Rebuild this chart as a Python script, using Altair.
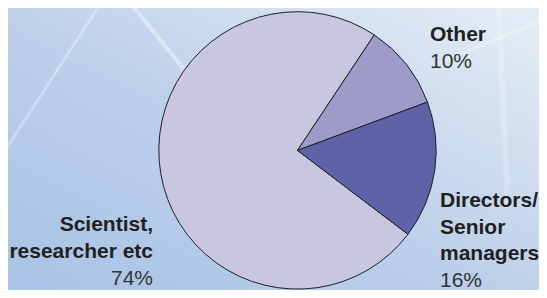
import math
import altair as alt
import pandas as pd

# ---- data ----
categories = ["Scientist, researcher etc", "Other", "Directors/Senior managers"]
shares = [74, 10, 16]
stack_order = [1, 2, 3]
colors = ["#c9c7e0", "#9e9bc9", "#5e63a7"]

label_lines = [["Scientist,", "researcher etc"], ["Other"], ["Directors/", "Senior", "managers"]]
pct_labels = ["74%", "10%", "16%"]

# ---- layout ----
W, H = 531, 282
CX, CY, R = 289.5, 142.4, 138.7
START = math.radians(127.2)
FONT = "Liberation Sans"
FS = 21

df = pd.DataFrame({"category": categories, "share": shares, "ord": stack_order})
one = pd.DataFrame({"a": [0]})

bg = alt.Chart(one).mark_rect(
    color={
        "gradient": "linear",
        "x1": 0, "y1": 1, "x2": 1, "y2": 0,
        "stops": [
            {"offset": 0, "color": "#a8c3e6"},
            {"offset": 0.45, "color": "#bbcfea"},
            {"offset": 1, "color": "#e6edf6"},
        ],
    }
).encode(x=alt.value(0), x2=alt.value(W), y=alt.value(0), y2=alt.value(H))


def streak(x1, y1, x2, y2, w, op):
    return alt.Chart(one).mark_rule(color="white", strokeWidth=w, opacity=op).encode(
        x=alt.value(x1), y=alt.value(y1), x2=alt.value(x2), y2=alt.value(y2))


deco = alt.layer(
    streak(-8, 150, 95, -8, 3, 0.3),
    streak(120, -8, 175, 60, 4, 0.4),
    streak(430, 55, 539, 10, 3, 0.3),
    streak(490, -8, 500, 200, 6, 0.2),
)

pie = alt.Chart(df).mark_arc(radius=R, stroke="#1e1e2a", strokeWidth=1).encode(
    theta=alt.Theta("share:Q", stack=True,
                    scale=alt.Scale(range=[START, START + 2 * math.pi])),
    order=alt.Order("ord:Q"),
    color=alt.Color("category:N", scale=alt.Scale(domain=categories, range=colors), legend=None),
    x=alt.value(CX),
    y=alt.value(CY),
)


def label(lines, pct, x, y, align, lh):
    name = alt.Chart(one).mark_text(
        text=lines, font=FONT, fontSize=FS, fontWeight="bold", color="#231f20",
        align=align, baseline="alphabetic", lineHeight=lh,
    ).encode(x=alt.value(x), y=alt.value(y))
    p = alt.Chart(one).mark_text(
        text=pct, font=FONT, fontSize=FS, color="#333333",
        align=align, baseline="alphabetic",
    ).encode(x=alt.value(x), y=alt.value(y + lh * len(lines)))
    return name + p


chart = alt.layer(
    bg,
    deco,
    pie,
    label(label_lines[0], pct_labels[0], 145, 222.7, "right", 27),
    label(label_lines[1], pct_labels[1], 422, 32.7, "left", 27.5),
    label(label_lines[2], pct_labels[2], 432, 199, "left", 26.5),
).properties(
    width=W, height=H, padding=0, autosize=alt.AutoSizeParams(type="none"),
    background="#bcd0ea",
).configure_view(stroke=None)

chart.save("out.html", embed_options={"renderer": "svg", "actions": False})
